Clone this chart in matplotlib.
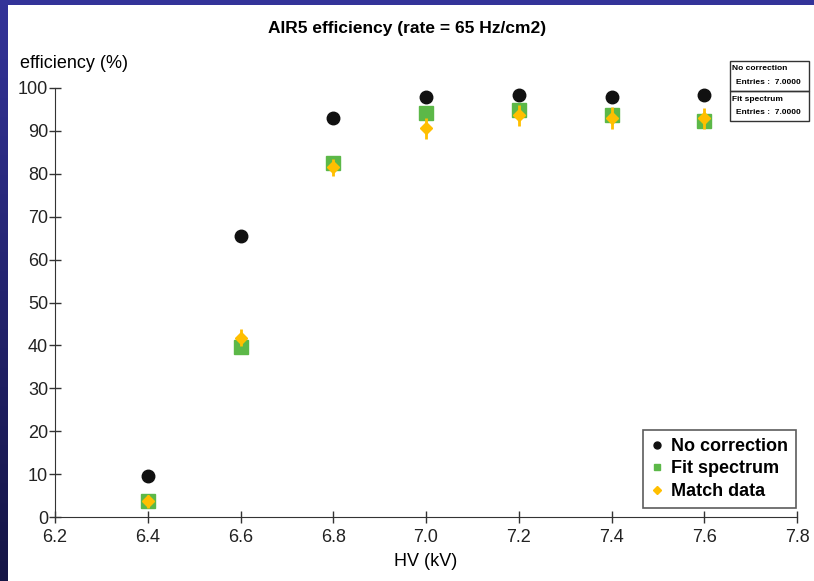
import numpy as np
import matplotlib
matplotlib.use("Agg")
from matplotlib import pyplot as plt
from matplotlib.patches import Rectangle
from matplotlib.lines import Line2D
from matplotlib.colors import LinearSegmentedColormap

# データ
hv = [6.4, 6.6, 6.8, 7.0, 7.2, 7.4, 7.6]
no_corr = [9.5, 65.4, 92.9, 97.8, 98.3, 97.8, 98.3]
fit_spec = [3.7, 39.6, 82.5, 94.1, 94.8, 93.8, 92.4]
match_data = [3.7, 41.8, 81.5, 90.6, 93.6, 93.0, 92.9]
match_err = [1.5, 2.0, 2.0, 2.5, 2.5, 2.5, 2.5]
labels = ['No correction', 'Fit spectrum', 'Match data']

plt.rcParams['font.family'] = ['Liberation Sans Narrow', 'Liberation Sans', 'DejaVu Sans']

fig = plt.figure(figsize=(8.14, 5.81), dpi=100)
fig.patch.set_facecolor('white')

# 枠(左と上の青)
bl = fig.add_axes([0, 0, 8 / 814, 1])
grad = np.linspace(0, 1, 256).reshape(-1, 1)
cm = LinearSegmentedColormap.from_list('b', ['#151545', '#333399'])
bl.imshow(grad, aspect='auto', cmap=cm, origin='lower', extent=[0, 1, 0, 1])
bl.axis('off')
bt = fig.add_axes([0, 1 - 5 / 581, 1, 5 / 581])
bt.set_facecolor('#333399')
bt.set_xticks([]); bt.set_yticks([])
for s in bt.spines.values():
    s.set_visible(False)

ax = fig.add_axes([55 / 814, 1 - 517 / 581, 742 / 814, 429 / 581])
ax.plot(hv, no_corr, 'o', color='#111111', ms=9, zorder=3)
ax.plot(hv, fit_spec, 's', color='#5cb848', ms=10, zorder=4)
ax.errorbar(hv, match_data, yerr=match_err, fmt='D', color='#ffbf00', ms=6.5,
            elinewidth=2, capsize=0, zorder=5)

ax.set_xlim(6.2, 7.8)
ax.set_ylim(0, 100)
ax.set_xticks(np.arange(6.2, 7.81, 0.2))
ax.set_xticklabels(['6.2', '6.4', '6.6', '6.8', '7.0', '7.2', '7.4', '7.6', '7.8'])
ax.set_yticks(range(0, 101, 10))
ax.spines['top'].set_visible(False)
ax.spines['right'].set_visible(False)
ax.spines['left'].set_color('#333333')
ax.spines['bottom'].set_color('#333333')
ax.tick_params(direction='inout', length=8, width=1, labelsize=13, pad=1, colors='#333333')
ax.tick_params(axis='x', pad=5)
ax.tick_params(labelcolor='#222222')

# 凡例
handles = [Line2D([], [], ls='', marker='o', color='#111111', ms=5),
           Line2D([], [], ls='', marker='s', color='#5cb848', ms=5),
           Line2D([], [], ls='', marker='D', color='#ffbf00', ms=4)]
leg = ax.legend(handles, labels, loc='lower right', bbox_to_anchor=(0.999, 0.021),
                borderaxespad=0,
                prop={'weight': 'bold', 'size': 13, 'family': 'Liberation Sans'},
                frameon=True, fancybox=False, edgecolor='#333333', handlelength=0.6,
                handletextpad=0.5, borderpad=0.45, labelspacing=0.3)
leg.get_frame().set_linewidth(1.2)

fig.text(0.5, 1 - 28 / 581, 'AIR5 efficiency (rate = 65 Hz/cm2)', ha='center', va='center',
         fontsize=12.5, fontweight='bold', family='Liberation Sans')
fig.text(20 / 814, 1 - 64 / 581, 'efficiency (%)', ha='left', va='center', fontsize=13)
fig.text(426 / 814, 1 - 562 / 581, 'HV (kV)', ha='center', va='center', fontsize=13)

# 統計ボックス
for i, name in enumerate(labels[:2]):
    y0 = 1 - (91 + 30 * i) / 581
    fig.add_artist(Rectangle((730 / 814, y0), 79 / 814, 30 / 581, transform=fig.transFigure,
                             fill=False, edgecolor='#333333', lw=1))
    fig.text(732 / 814, y0 + 22 / 581, name, fontsize=6, fontweight='bold',
             family='Liberation Sans', va='center')
    fig.text(736 / 814, y0 + 9 / 581, 'Entries :  7.0000', fontsize=6, fontweight='bold',
             family='Liberation Sans', va='center')

fig.savefig('out.png', dpi=100)
